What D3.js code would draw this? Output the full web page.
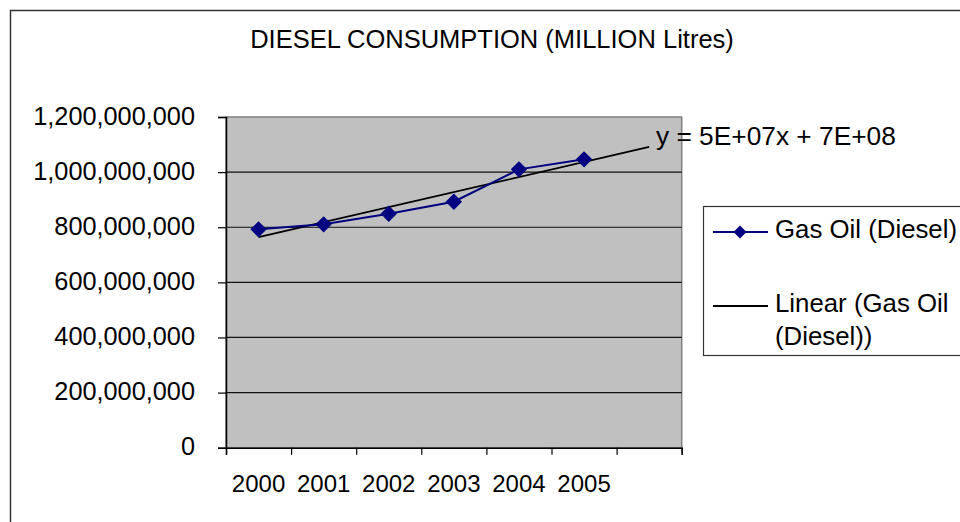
<!DOCTYPE html>
<html><head><meta charset="utf-8">
<script src="https://cdn.jsdelivr.net/npm/d3@7"></script>
<style>body{margin:0;background:#fff}svg{display:block;font-family:"Liberation Sans",Arial,sans-serif}</style>
</head><body>
<svg id="c" width="960" height="522"></svg>
<script>
const title = "DIESEL CONSUMPTION (MILLION Litres)";
const years = ["2000","2001","2002","2003","2004","2005"];
const diesel = [792.5e6, 810.6e6, 849e6, 892.6e6, 1010e6, 1046.4e6];
const forecastPeriods = 1;
const yTicks = [0, 200e6, 400e6, 600e6, 800e6, 1000e6, 1200e6];
const seriesName = "Gas Oil (Diesel)";
const trendName = ["Linear (Gas Oil", "(Diesel))"];

const svg = d3.select("#c");
const L = 226, R = 681.7, T = 117, B = 447.7;
const nCat = years.length + forecastPeriods;
const x = d3.scaleLinear().domain([0, nCat]).range([L, R]);
const y = d3.scaleLinear().domain([0, 1.2e9]).range([B, T]);

// outer chart border
svg.append("rect").attr("x",10.5).attr("y",10.5).attr("width",980).attr("height",540)
  .attr("fill","#fff").attr("stroke","#333").attr("stroke-width",1.5);

// plot area
svg.append("rect").attr("x",L).attr("y",T).attr("width",R-L).attr("height",B-T)
  .attr("fill","#c0c0c0").attr("stroke","#808080").attr("stroke-width",1.5);

// gridlines
svg.append("g").selectAll("line").data(yTicks.filter(v=>v>0 && v<1.2e9)).join("line")
  .attr("x1",L).attr("x2",R).attr("y1",d=>y(d)).attr("y2",d=>y(d))
  .attr("stroke","#111").attr("stroke-width",1.2);

// y axis
const ya = svg.append("g").attr("transform",`translate(${L},0)`)
  .call(d3.axisLeft(y).tickValues(yTicks).tickFormat(d3.format(",")).tickSize(8).tickPadding(23));
ya.select(".domain").attr("stroke","#000").attr("stroke-width",1.5);
ya.selectAll(".tick line").attr("stroke","#000").attr("stroke-width",1.2);
ya.selectAll("text").attr("font-size",25.3).attr("fill","#000").attr("font-family","Liberation Sans, Arial, sans-serif").attr("dy","0.28em");

// x axis
const xa = svg.append("g").attr("transform",`translate(0,${B})`)
  .call(d3.axisBottom(x).tickValues(d3.range(nCat+1)).tickFormat("").tickSize(7));
xa.select(".domain").attr("stroke","#000").attr("stroke-width",1.5);
xa.selectAll(".tick line").attr("stroke","#000").attr("stroke-width",1.2);
svg.append("g").selectAll("text").data(years).join("text")
  .attr("x",(d,i)=>x(i+0.5)).attr("y",492).attr("text-anchor","middle")
  .attr("font-size",24).attr("fill","#000").text(d=>d);

// linear trendline (least squares over x = 1..n)
const n = diesel.length;
const xs = d3.range(1, n+1);
const mx = d3.mean(xs), my = d3.mean(diesel);
const slope = d3.sum(xs.map((xi,i)=>(xi-mx)*(diesel[i]-my))) / d3.sum(xs.map(xi=>(xi-mx)**2));
const icpt = my - slope*mx;
const trendPts = [1, n + forecastPeriods].map(k => [x(k-0.5), y(icpt + slope*k)]);
svg.append("path").attr("d", d3.line()(trendPts)).attr("stroke","#000").attr("stroke-width",1.8).attr("fill","none");

// series line
const line = d3.line().x((d,i)=>x(i+0.5)).y(d=>y(d));
svg.append("path").datum(diesel).attr("d",line).attr("stroke","#000080").attr("stroke-width",2).attr("fill","none");
const diamond = d3.symbol().type(d3.symbolDiamond2).size(170);
svg.append("g").selectAll("path").data(diesel).join("path")
  .attr("transform",(d,i)=>`translate(${x(i+0.5)},${y(d)})`)
  .attr("d",diamond).attr("fill","#000080");

// equation
const fmtE = v => { const e = Math.floor(Math.log10(Math.abs(v))); const m = Math.round(v/10**e); return `${m}E+${String(e).padStart(2,"0")}`; };
svg.append("text").attr("x",656).attr("y",145).attr("font-size",26.3).attr("fill","#000")
  .text(`y = ${fmtE(slope)}x + ${fmtE(icpt)}`);

// title
svg.append("text").attr("x",492).attr("y",48).attr("text-anchor","middle")
  .attr("font-size",25.5).attr("fill","#000").text(title);

// legend
const lg = svg.append("g");
lg.append("rect").attr("x",703.5).attr("y",206.5).attr("width",300).attr("height",149)
  .attr("fill","#fff").attr("stroke","#333").attr("stroke-width",1.2);
lg.append("line").attr("x1",713).attr("x2",768).attr("y1",232).attr("y2",232).attr("stroke","#000080").attr("stroke-width",2);
lg.append("path").attr("transform","translate(740,232)").attr("d",d3.symbol().type(d3.symbolDiamond2).size(110)).attr("fill","#000080");
lg.append("text").attr("x",775).attr("y",238).attr("font-size",25.8).attr("fill","#000").text(seriesName);
lg.append("line").attr("x1",713).attr("x2",768).attr("y1",306).attr("y2",306).attr("stroke","#000").attr("stroke-width",1.8);
lg.append("text").attr("x",775).attr("y",312).attr("font-size",25.8).attr("fill","#000").text(trendName[0]);
lg.append("text").attr("x",775).attr("y",345).attr("font-size",25.8).attr("fill","#000").text(trendName[1]);
</script>
</body></html>
